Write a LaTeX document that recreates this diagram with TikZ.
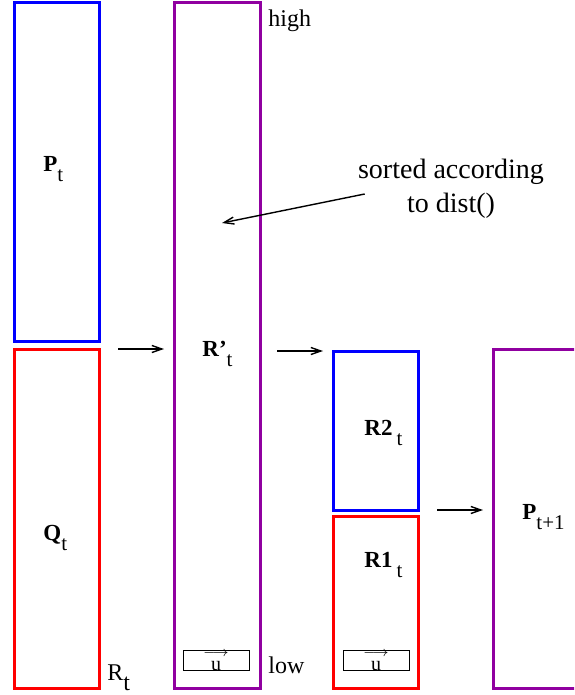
\documentclass[tikz,border=0pt]{standalone}
\usepackage{fontspec}
\setmainfont{Liberation Serif}
\usetikzlibrary{arrows.meta,positioning,fit}
\definecolor{setblue}{RGB}{0,0,255}
\definecolor{setred}{RGB}{255,0,0}
\definecolor{setpurple}{RGB}{144,0,160}
\newcommand{\sublbl}[2]{\textbf{#1}\raisebox{-5pt}{\fontsize{10.5}{12}\selectfont #2}}
\newcommand{\uvec}{\shortstack{$\scriptstyle\longrightarrow$\\[-0.5pt]u}}

\begin{document}
\begin{tikzpicture}[x=0.5pt,y=-0.5pt,
  box/.style={draw=#1,line width=1.5pt,inner sep=0pt,outer sep=0pt},
  ubox/.style={draw,line width=0.5pt,minimum width=33pt,minimum height=9.5pt,inner sep=0pt,
    font=\fontsize{10}{11}\selectfont},
  lbl/.style={anchor=base west,inner sep=0pt,font=\fontsize{11.5}{13}\selectfont},
  txt/.style={anchor=base west,inner sep=0pt,font=\fontsize{12}{14}\selectfont},
  arr/.style={-{Straight Barb[length=5pt,width=3.5pt]},line width=0.7pt}
]
\clip (0,0) rectangle (574,695);
\node[box=setblue,fit={(14,3) (99,341)}] (P) {};
\node[box=setred,fit={(14,349) (99,688)}] (Q) {};
\node[box=setpurple,fit={(174,3) (260,688)}] (Rp) {};
\node[box=setblue,fit={(333,351) (418,510)}] (R2) {};
\node[box=setred,fit={(333,516) (418,688)}] (R1) {};
\node[box=setpurple,fit={(493,349) (578,688)}] (Pn) {};

\node[lbl] (Plbl) at (43,172) {\sublbl{P}{t}};
\node[lbl] (Qlbl) at (43,540) {\sublbl{Q}{t}};
\node[lbl] (Rplbl) at (202,356) {\sublbl{R'}{t}};
\node[lbl] (R2lbl) at (364,435) {\sublbl{R2\hspace{2pt}}{t}};
\node[lbl] (R1lbl) at (364,567) {\sublbl{R1\hspace{2pt}}{t}};
\node[lbl] (Pnlbl) at (522,519) {\sublbl{P}{t+1}};

\node[txt] (high) at (268,27) {high};
\node[txt] (low) at (268,673) {low};
\node[txt] (Rt) at (107,680) {R\raisebox{-5pt}{t}};

\node[ubox] (u1) at (216,660.5) {\uvec};
\node[ubox] (u2) at (376,660.5) {\uvec};

\node[inner sep=0pt,align=center,font=\fontsize{14}{17}\selectfont] (note) at (451,189)
  {sorted according\\to dist()};
\coordinate (sorthead) at (222,223);

\draw[arr] ([xshift=9.5pt]Q.north east) -- ([xshift=-5pt]Q.north east -| Rp.west);
\draw[arr] ([xshift=8.5pt]Rp.east |- R2.north west) -- ([xshift=-5pt]R2.north west);
\draw[arr] ([xshift=9.5pt]R2.south east) -- ([xshift=-5pt]R2.south east -| Pn.west);
\draw[arr] ([shift={(7,5)}]note.west) -- (sorthead);
\end{tikzpicture}
\end{document}
